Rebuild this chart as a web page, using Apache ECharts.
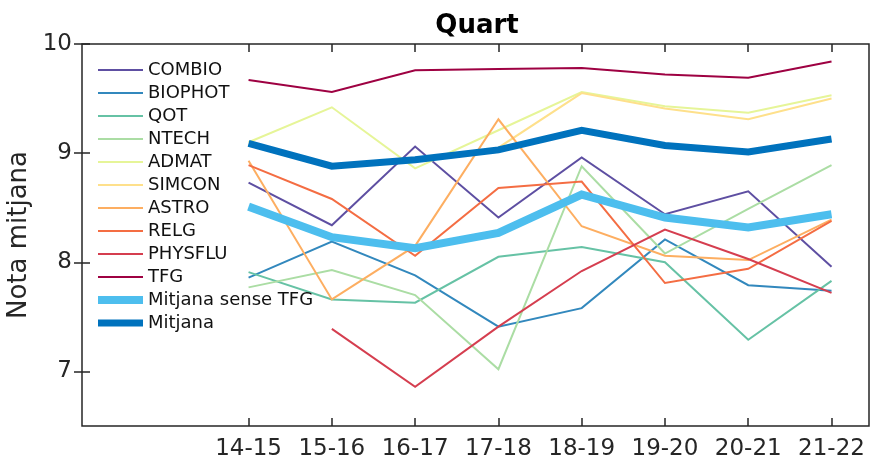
<!DOCTYPE html>
<html>
<head>
<meta charset="utf-8">
<script src="https://cdn.jsdelivr.net/npm/echarts@6/dist/echarts.min.js"></script>
<style>
  html, body { margin: 0; padding: 0; background: #fff; }
  #chart { width: 870px; height: 460px; }
</style>
</head>
<body>
<div id="chart"></div>
<script>
// cursos acadèmics
const seasons = ['14-15', '15-16', '16-17', '17-18', '18-19', '19-20', '20-21', '21-22'];
const yTicks = [7, 8, 9, 10];

// nota mitjana per màster
const combio  = [8.73, 8.34, 9.06, 8.41, 8.96, 8.44, 8.65, 7.96];
const biophot = [7.86, 8.19, 7.88, 7.41, 7.58, 8.21, 7.79, 7.74];
const qot     = [7.91, 7.66, 7.63, 8.05, 8.14, 8.00, 7.29, 7.83];
const ntech   = [7.77, 7.93, 7.70, 7.02, 8.88, 8.08, 8.49, 8.89];
const admat   = [9.10, 9.42, 8.86, 9.21, 9.56, 9.43, 9.37, 9.53];
const simcon  = [9.08, 8.87, 8.93, 9.05, 9.55, 9.41, 9.31, 9.50];
const astro   = [8.93, 7.66, 8.15, 9.31, 8.33, 8.06, 8.02, 8.39];
const relg    = [8.89, 8.58, 8.06, 8.68, 8.74, 7.81, 7.94, 8.38];
const physflu = [null, 7.39, 6.86, 7.41, 7.92, 8.30, 8.03, 7.72];
const tfg     = [9.67, 9.56, 9.76, 9.77, 9.78, 9.72, 9.69, 9.84];
const mitjanaSenseTfg = [8.51, 8.23, 8.13, 8.27, 8.62, 8.41, 8.32, 8.44];
const mitjana = [9.09, 8.88, 8.94, 9.03, 9.21, 9.07, 9.01, 9.13];

const FONT = 'DejaVu Sans';
const INK = '#262626';
// els cursos van a x = 2..9 (com a l'original, amb marge a l'esquerra)
const xPos = seasons.map((s, i) => i + 2);

const seriesDefs = [
  ['COMBIO', combio, '#5e4fa2', 2],
  ['BIOPHOT', biophot, '#3288bd', 2],
  ['QOT', qot, '#66c2a5', 2],
  ['NTECH', ntech, '#abdda4', 2],
  ['ADMAT', admat, '#e6f598', 2],
  ['SIMCON', simcon, '#fee08b', 2],
  ['ASTRO', astro, '#fdae61', 2],
  ['RELG', relg, '#f46d43', 2],
  ['PHYSFLU', physflu, '#d53e4f', 2],
  ['TFG', tfg, '#9e0142', 2],
  ['Mitjana sense TFG', mitjanaSenseTfg, '#4dbeee', 8],
  ['Mitjana', mitjana, '#0072bd', 7]
];

let chart = echarts.init(document.getElementById('chart'), null, { renderer: 'canvas' });

const xBase = {
  type: 'value',
  min: 0,
  max: 9.45,
  interval: 1,
  splitLine: { show: false },
  axisLine: { show: false },
  axisTick: { show: true, inside: true, length: 8, customValues: xPos, lineStyle: { color: INK, width: 1.5 } }
};
const yBase = {
  type: 'value',
  min: 6.5,
  max: 10,
  splitLine: { show: false },
  axisLine: { show: false },
  axisTick: { show: true, inside: true, length: 8, customValues: yTicks, lineStyle: { color: INK, width: 1.5 } }
};

chart.setOption({
  animation: false,
  backgroundColor: '#fff',
  title: {
    text: 'Quart',
    left: 472,
    top: 8,
    textAlign: 'center',
    textStyle: { fontFamily: FONT, fontSize: 26, fontWeight: 'bold', color: '#000' }
  },
  grid: {
    left: 82,
    right: 1,
    top: 44,
    bottom: 34,
    outerBoundsMode: 'none',
    show: true,
    borderColor: INK,
    borderWidth: 1.5,
    backgroundColor: '#fff'
  },
  legend: {
    orient: 'vertical',
    left: 94,
    top: 61,
    padding: 0,
    itemWidth: 45,
    itemHeight: 16,
    itemGap: 5,
    selectedMode: false,
    itemStyle: { opacity: 0 },
    textStyle: { fontFamily: FONT, fontSize: 18, lineHeight: 16, color: '#111' },
    data: seriesDefs.map(d => ({ name: d[0], lineStyle: { width: d[3], color: d[2] } }))
  },
  xAxis: [
    Object.assign({}, xBase, {
      position: 'bottom',
      axisLabel: {
        customValues: xPos,
        margin: 12,
        fontFamily: FONT,
        fontSize: 23,
        color: INK,
        formatter: v => seasons[v - 2]
      }
    }),
    Object.assign({}, xBase, { position: 'top', axisLabel: { show: false } })
  ],
  yAxis: [
    Object.assign({}, yBase, {
      position: 'left',
      name: 'Nota mitjana',
      nameLocation: 'middle',
      nameGap: 46,
      nameTextStyle: { fontFamily: FONT, fontSize: 26, color: INK },
      axisLabel: {
        customValues: yTicks,
        margin: 10,
        fontFamily: FONT,
        fontSize: 23,
        color: INK
      }
    }),
    Object.assign({}, yBase, { position: 'right', axisLabel: { show: false } })
  ],
  series: seriesDefs.map(d => ({
    name: d[0],
    type: 'line',
    data: d[1].map((v, i) => [xPos[i], v]),
    symbol: 'none',
    color: d[2],
    lineStyle: { color: d[2], width: d[3], join: 'miter' }
  }))
});
</script>
</body>
</html>
